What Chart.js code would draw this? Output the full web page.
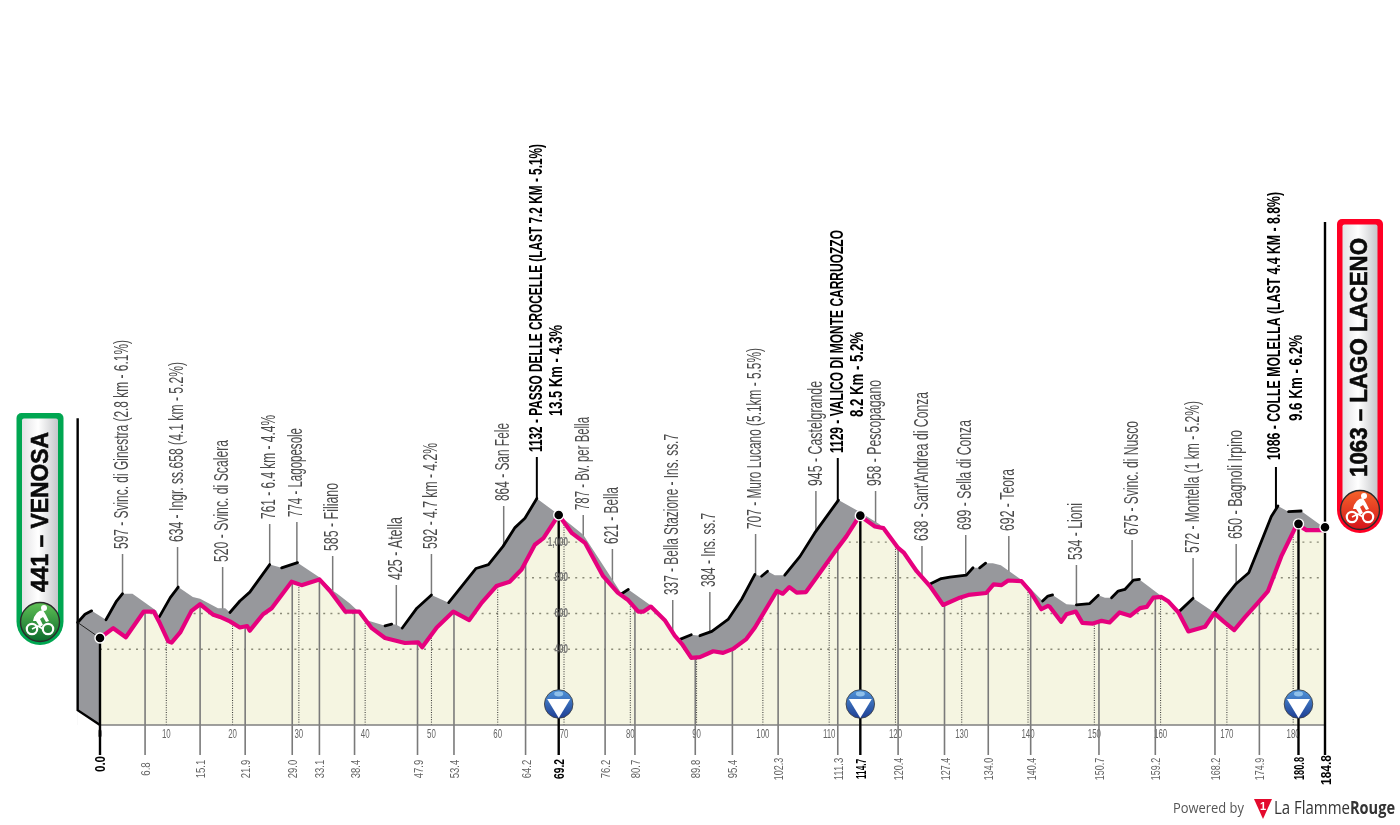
<!DOCTYPE html>
<html>
<head>
<meta charset="utf-8">
<style>html,body{margin:0;padding:0;background:#fff}canvas{display:block}</style>
<script src="https://cdn.jsdelivr.net/npm/chart.js@4"></script>
</head>
<body>
<canvas id="c" width="1400" height="825"></canvas>
<script>
// ---------- data ----------
const frontKm = [0,2,3.9,6.6,8.1,9.05,10.3,10.8,12.1,13.8,15.1,17.1,18.1,19.6,21.1,22.2,22.6,24.6,25.9,28.9,30.4,33.1,34.7,37,39.1,41,43,46,48,48.6,50.8,53.3,55.7,57.6,59.8,61.8,63.6,65.6,66.9,69.2,71.2,73.2,75.9,78.1,79.7,81.2,82,83.1,85.2,86.7,87.9,89.2,90.5,92.5,94,95.5,97.5,98.8,100.3,102.1,103,104,105.1,106.5,108.6,110.9,112.6,114.6,116.9,118.2,120.4,121.3,123.2,125.2,127.2,129.7,131,133.7,134.8,136,137,139,140.3,142,143,143.3,145,145.8,147.2,148.2,149.8,151.1,152.3,153.8,155.4,156.9,157.9,158.9,160.1,161.2,162.7,164.2,166.7,168.1,169.4,171.1,172.7,174.7,176.2,178.2,180.6,181.5,182,184.8];
const frontAlt = [463,518,467,611,611,544,444,437,494,615,652,593,581,556,522,530,504,596,630,778,759,791,726,611,611,518,463,435,439,411,522,611,563,661,754,778,846,985,1022,1152,1050,994,809,717,674,611,611,639,563,476,424,352,356,389,380,402,457,522,615,726,711,748,717,720,828,948,1032,1148,1087,1078,967,939,837,754,648,689,704,715,763,759,785,781,726,624,643,637,554,596,611,548,544,559,550,606,587,630,637,689,693,667,606,500,526,602,559,507,578,661,726,920,1102,1078,1067,1067];
const backKm = [-3.37,-2.26,-1.26,0.9,2.5,3.4,4.9,8.5,8.95,10.6,11.8,14,15.1,17.8,18.9,19.6,21.1,22.6,25.6,27.4,29.8,33.2,35.2,35.8,37.7,40.5,43,44,44.7,45.6,47.8,50,52.6,54.8,56.7,58.6,60.8,62.6,64.1,65.9,68.6,72.9,78.7,79.7,83,85.9,87.4,89.2,90.5,92.3,94.8,96.8,98.8,99.8,100.7,101.8,103.3,105.6,107.8,111.4,114.1,117.6,124.1,125.3,126.9,128.2,130.7,131.7,132.7,133.6,134.7,135.9,139.3,142.2,143,143.7,145.8,147.3,149.3,150.6,151.6,152.6,153.6,154.6,155.9,156.8,160.1,162.9,164.9,168.1,169.7,171.4,173.3,174.7,176.7,177.7,179.3,181.2,184.8];
const backAlt = [550,596,615,565,670,711,711,615,581,689,748,693,683,630,630,606,670,720,874,856,885,800,726,711,656,559,531,541,537,519,630,704,661,763,852,874,976,1081,1133,1244,1170,1041,711,735,648,522,454,481,476,500,569,680,819,809,837,815,815,920,1050,1235,1180,1100,809,767,796,804,815,856,856,882,882,870,781,670,698,704,652,648,656,702,689,689,726,735,787,791,698,615,685,606,689,767,828,957,1143,1202,1170,1174,1078];
const kmTicks = [0,10,20,30,40,50,60,70,80,90,100,110,120,130,140,150,160,170,180];
const altTicks = [400,600,800,1000];
const minorKm = [6.8,15.1,21.9,29.0,33.1,38.4,47.9,53.4,64.2,76.2,80.7,89.8,95.4,102.3,111.3,120.4,127.4,134.0,140.4,150.7,159.2,168.2,174.9];
const majorKm = [0.0,69.2,114.7,180.8,184.8];
const majorAlt = [463,1152,1148,1102,1083];
const summitKm = [69.2,114.7,180.8];
const placeLabels = ['597 - Svinc. di Ginestra (2.8 km - 6.1%)','634 - Ingr. ss.658 (4.1 km - 5.2%)','520 - Svinc. di Scalera','761 - 6.4 km - 4.4%','774 - Lagopesole','585 - Filiano','425 - Atella','592 - 4.7 km - 4.2%','864 - San Fele','787 - Bv. per Bella','621 - Bella','337 - Bella Stazione - Ins. ss.7','384 - Ins. ss.7','707 - Muro Lucano (5.1km - 5.5%)','945 - Castelgrande','958 - Pescopagano',"638 - Sant'Andrea di Conza",'699 - Sella di Conza','692 - Teora','534 - Lioni','675 - Svinc. di Nusco','572 - Montella (1 km - 5.2%)','650 - Bagnoli Irpino'];
const placeKm = [3.4,11.7,18.5,25.6,29.7,35.1,44.7,50,60.9,72.9,77.3,86.4,92,98.9,108,117,124,130.6,137.1,147.3,155.7,164.9,171.4];
const climbLabels = ['1132 - PASSO DELLE CROCELLE (LAST 7.2 KM - 5.1%)','1129 - VALICO DI MONTE CARRUOZZO','1086 - COLLE MOLELLA (LAST 4.4 KM - 8.8%)'];
const climbSubLabels = ['13.5 Km - 4.3%','8.2 Km - 5.2%','9.6 Km - 6.2%'];
const climbKm = [65.9,111.3,177.4];

// ---------- layout (not data) ----------
const placeLeaderTop = [554,547,567,524,522,556,585,554,506,515,549,600,592,534,491,491,546,535,536,565,540,558,544];
const placeLength = [209,180,122,104,89,68,63,106,78,93,57,161,74,181,105,106,149,110,62,57,114,152,109];
const climbLeaderTop = [457,458,467];
const climbLength = [308,223,268];
const climbBase = [452,453,460];
const climbSub = [{x:562,y:416,len:91},{x:863,y:417,len:85},{x:1302,y:421,len:86}];
const climbMainX = [542,843,1280];
const SANS = "'Liberation Sans',sans-serif";
const GRAY='#97989c', PALE='#f5f5e1', PINK='#e6007e';

function rotText(ctx,text,x,y,len,font,color,stroke){
  ctx.save();
  ctx.translate(x,y); ctx.rotate(-Math.PI/2);
  ctx.font=font; ctx.fillStyle=color; ctx.textAlign='left'; ctx.textBaseline='alphabetic';
  const w=ctx.measureText(text).width;
  ctx.scale(len/w,1);
  ctx.fillText(text,0,0);
  if(stroke){ctx.strokeStyle=color;ctx.lineWidth=stroke;ctx.strokeText(text,0,0);}
  ctx.restore();
}
function rider(ctx,cx,cy,s){
  ctx.save(); ctx.translate(cx,cy); ctx.scale(s,s);
  ctx.strokeStyle='#fff'; ctx.fillStyle='#fff';
  ctx.lineWidth=2.2;
  ctx.beginPath(); ctx.arc(-8,7,5.2,0,Math.PI*2); ctx.stroke();
  ctx.beginPath(); ctx.arc(8,7,5.2,0,Math.PI*2); ctx.stroke();
  ctx.beginPath(); ctx.moveTo(-8,7); ctx.lineTo(-2,4); ctx.lineTo(3,7); ctx.lineWidth=1.6; ctx.stroke();
  ctx.beginPath(); ctx.moveTo(-7,-1); ctx.quadraticCurveTo(-5,-11,3,-12); ctx.lineTo(6,-7); ctx.lineTo(9,-1); ctx.lineTo(6,0);
  ctx.lineTo(3,-5); ctx.lineTo(0,-3); ctx.lineTo(3,3); ctx.lineTo(0,5); ctx.lineTo(-4,-1); ctx.closePath(); ctx.fill();
  ctx.beginPath(); ctx.arc(4,-14,3,0,Math.PI*2); ctx.fill();
  ctx.restore();
}
function banner(ctx,x,y,w,h,color,dark,bright,text,tx,ty,tlen,iconY){
  ctx.save();
  ctx.beginPath(); ctx.roundRect(x,y,w,h,[5,5,w/2,w/2]); ctx.fillStyle=color; ctx.fill();
  const g=ctx.createLinearGradient(x+5,0,x+w-5,0);
  g.addColorStop(0,'#e2e2e4'); g.addColorStop(0.45,'#ffffff'); g.addColorStop(1,'#c4c5c8');
  ctx.beginPath(); ctx.roundRect(x+5.5,y+5.5,w-11,h-11-10,[2,2,w/2-5,w/2-5]); ctx.fillStyle=g; ctx.fill();
  rotText(ctx,text,tx,ty,tlen,"bold 24.5px "+SANS,'#0a0a0a',0.6);
  const cx=x+w/2;
  ctx.beginPath(); ctx.arc(cx,iconY,19.5,0,Math.PI*2);
  const r=ctx.createLinearGradient(0,iconY-19,0,iconY+19);
  r.addColorStop(0,bright); r.addColorStop(1,dark);
  ctx.fillStyle=r; ctx.fill(); ctx.lineWidth=1.4; ctx.strokeStyle='#2a2a2a'; ctx.stroke();
  rider(ctx,cx,iconY,1);
  ctx.restore();
}
function summit(ctx,cx,cy){
  ctx.save();
  ctx.beginPath(); ctx.arc(cx,cy,14.3,0,Math.PI*2);
  const g=ctx.createLinearGradient(0,cy-14,0,cy+14);
  g.addColorStop(0,'#4f93d8'); g.addColorStop(1,'#1f3f94');
  ctx.fillStyle=g; ctx.fill(); ctx.lineWidth=0.8; ctx.strokeStyle='#3a3a3a'; ctx.stroke();
  ctx.beginPath(); ctx.moveTo(cx-11.5,cy-5); ctx.lineTo(cx+11.5,cy-5); ctx.lineTo(cx,cy+14); ctx.closePath();
  ctx.fillStyle='#fff'; ctx.fill();
  ctx.beginPath(); ctx.ellipse(cx,cy-10,4.5,2.4,0,0,Math.PI*2); ctx.fillStyle='#8fc0ea'; ctx.fill();
  ctx.restore();
}
// the reference's axis numbers are in a condensed face: narrow what the scales draw
function condenseLabels(scale,factor){
  const orig=scale.drawLabels;
  scale.drawLabels=function(area){
    const c=this.ctx, f=c.fillText;
    c.fillText=function(t,x,y){c.save();c.translate(x,y);c.scale(factor,1);f.call(c,t,0,0);c.restore();};
    orig.call(this,area);
    delete c.fillText;
  };
}
const IDX={stops:0,pink:1,pale:3};
const artwork={
  id:'artwork',
  beforeDraw(chart){
    if(chart.$condensed)return;
    chart.$condensed=true;
    condenseLabels(chart.scales.x,0.63);
    condenseLabels(chart.scales.y,0.65);
  },
  beforeDatasetsDraw(chart){
    const {ctx,scales:{x}}=chart;
    ctx.save();
    ctx.strokeStyle='#7a7a7a'; ctx.lineWidth=1.5;
    placeKm.forEach((km,i)=>{
      const px=x.getPixelForValue(km);
      ctx.beginPath(); ctx.moveTo(px,placeLeaderTop[i]); ctx.lineTo(px,700); ctx.stroke();
      rotText(ctx,placeLabels[i],px+5.6,placeLeaderTop[i]-5,placeLength[i],"19.5px "+SANS,'#4a4a4a');
    });
    ctx.strokeStyle='#000'; ctx.lineWidth=2;
    climbKm.forEach((km,i)=>{
      const px=x.getPixelForValue(km);
      ctx.beginPath(); ctx.moveTo(px,climbLeaderTop[i]); ctx.lineTo(px,700); ctx.stroke();
      rotText(ctx,climbLabels[i],climbMainX[i],climbBase[i],climbLength[i],"bold 18px "+SANS,'#000');
      rotText(ctx,climbSubLabels[i],climbSub[i].x,climbSub[i].y,climbSub[i].len,"bold 18.5px "+SANS,'#000');
    });
    ctx.restore();
  },
  afterDatasetDraw(chart,args){
    const {ctx,scales:{x,y},chartArea:a}=chart;
    if(args.index===IDX.pale){
      const pts=args.meta.data;
      ctx.save();
      ctx.beginPath();
      pts.forEach((p,i)=>i?ctx.lineTo(p.x,p.y):ctx.moveTo(p.x,p.y));
      ctx.lineTo(pts[pts.length-1].x,825); ctx.lineTo(pts[0].x,825); ctx.closePath(); ctx.clip();
      // dotted level lines
      ctx.strokeStyle='#8b8b78'; ctx.lineWidth=1.4; ctx.setLineDash([2,5.2]);
      y.ticks.forEach(t=>{const py=y.getPixelForValue(t.value);ctx.beginPath();ctx.moveTo(x.getPixelForValue(0),py);ctx.lineTo(x.getPixelForValue(184.8),py);ctx.stroke();});
      // dotted km lines
      ctx.strokeStyle='#333'; ctx.lineWidth=1; ctx.setLineDash([1,1.4]);
      x.ticks.forEach(t=>{if(t.value===0)return;const px=x.getPixelForValue(t.value);ctx.beginPath();ctx.moveTo(px,a.bottom);ctx.lineTo(px,300);ctx.stroke();});
      ctx.setLineDash([]);
      // km marker lines
      ctx.strokeStyle='#7a7a7a'; ctx.lineWidth=1.6;
      minorKm.forEach(km=>{const px=x.getPixelForValue(km);ctx.beginPath();ctx.moveTo(px,755);ctx.lineTo(px,300);ctx.stroke();});
      ctx.restore();
      minorKm.forEach(km=>{
        const px=x.getPixelForValue(km),s=km.toFixed(1);
        const len=s.length===3?13.5:(s.length===4?18.5:22.5);
        rotText(ctx,s,px+5,769+len/2,len,"13.5px "+SANS,'#666');
      });
    }
    if(args.index===IDX.pink){
      ctx.save();
      ctx.strokeStyle='#000'; ctx.lineWidth=2.4;
      majorKm.forEach((km,i)=>{
        const px=x.getPixelForValue(km);
        const top=km===184.8?222:y.getPixelForValue(majorAlt[i]);
        ctx.beginPath(); ctx.moveTo(px,top); ctx.lineTo(px,755); ctx.stroke();
        const s=km.toFixed(1);
        const len=km===184.8?30:(km===0?16:(km===180.8?23:20));
        const base=km===184.8?785:(km===0?772:(km===180.8?780:779));
        rotText(ctx,s,px+5.5,base,len,"bold 15px "+SANS,'#000');
      });
      ctx.restore();
    }
  },
  afterDatasetsDraw(chart){
    const {ctx,scales:{x}}=chart;
    summitKm.forEach(km=>summit(ctx,x.getPixelForValue(km),704));
    banner(ctx,16.5,413,47,232,'#00a651','#0b6b2c','#5fbf55','441 – VENOSA',47.7,592,160,622);
    banner(ctx,1337,219,46,314,'#ff0024','#d5141b','#f4622a','1063 – LAGO LACENO',1367,477,239,510);
    // footer
    ctx.save();
    ctx.textBaseline='alphabetic'; ctx.textAlign='left';
    ctx.font="14.5px 'Open Sans',sans-serif"; ctx.fillStyle='#555';
    ctx.fillText('Powered by',1173,813,71);
    ctx.beginPath(); ctx.moveTo(1254,799); ctx.lineTo(1272,799); ctx.lineTo(1263,819); ctx.closePath();
    ctx.fillStyle='#e30a2d'; ctx.fill();
    ctx.font="bold 11px "+SANS; ctx.fillStyle='#fff'; ctx.textAlign='center';
    ctx.fillText('1',1263,810);
    ctx.textAlign='left';
    ctx.font="18px 'Open Sans',sans-serif"; ctx.fillStyle='#333';
    ctx.fillText('La Flamme',1274,814,76);
    ctx.font="bold 18px 'Open Sans',sans-serif"; ctx.fillStyle='#333';
    ctx.fillText('Rouge',1350,814,45);
    ctx.restore();
  }
};
const pairs=(xs,ys)=>xs.map((v,i)=>({x:v,y:ys[i]}));
new Chart(document.getElementById('c'),{
  type:'line',
  data:{datasets:[
    {label:'stops',data:pairs(majorKm,majorAlt),showLine:false,pointRadius:5,pointBackgroundColor:'#000',pointBorderColor:'#fff',pointBorderWidth:1.4,clip:false},
    {label:'route',data:pairs(frontKm,frontAlt),borderColor:PINK,borderWidth:4.2,borderJoinStyle:'round',borderCapStyle:'round',pointRadius:0,fill:false,clip:false},
    {label:'baseline',data:[{x:0,y:-24},{x:184.8,y:-24}],borderColor:'#7f7f7f',borderWidth:1.6,pointRadius:0,fill:false,clip:false},
    {label:'front',data:pairs(frontKm,frontAlt),borderWidth:0,borderColor:'transparent',backgroundColor:PALE,pointRadius:0,fill:{value:-24}},
    {label:'edge',data:[{x:-3.37,y:550},{x:0,y:463}],borderColor:'#222',borderWidth:1,pointRadius:0,fill:false,clip:false},
    {label:'edge2',data:[{x:-3.37,y:1693},{x:-3.37,y:59},{x:0,y:-24}],borderColor:'#000',borderWidth:2.4,pointRadius:0,fill:false,clip:false},
    {label:'cut',data:[{x:-3.37,y:59},{x:0,y:-24}],borderWidth:0,borderColor:'transparent',backgroundColor:'#fff',pointRadius:0,fill:{value:-24}},
    {label:'backLine',data:pairs(backKm,backAlt),borderWidth:2.8,borderJoinStyle:'round',borderCapStyle:'round',pointRadius:0,fill:false,clip:false,
      segment:{borderColor:c=>c.p1.parsed.y>c.p0.parsed.y?'#000':'transparent'}},
    {label:'back',data:pairs(backKm,backAlt),backgroundColor:GRAY,borderWidth:0,borderColor:'transparent',pointRadius:0,fill:{value:-24}}
  ]},
  plugins:[artwork],
  options:{
    responsive:false,animation:false,events:[],
    layout:{padding:{left:77.46,right:75,top:5,bottom:0}},
    plugins:{legend:{display:false},tooltip:{enabled:false}},
    scales:{
      x:{type:'linear',min:-3.4,max:184.8,offset:false,
        grid:{display:false,drawTicks:false},border:{display:false},
        afterBuildTicks:s=>{s.ticks=kmTicks.map(v=>({value:v}));},
        afterFit:s=>{s.height=100;},
        ticks:{autoSkip:false,maxRotation:0,minRotation:0,padding:2,color:'#666',font:{family:SANS,size:12.5}}
      },
      y:{type:'linear',min:-24,max:3976,position:{x:70.6},
        grid:{display:false},border:{display:false},
        afterBuildTicks:s=>{s.ticks=altTicks.map(v=>({value:v}));},
        ticks:{z:1,autoSkip:false,color:'rgba(110,110,110,0.95)',font:{family:SANS,size:12.5,weight:'bold'}}
      }
    }
  }
});
</script>
</body>
</html>
